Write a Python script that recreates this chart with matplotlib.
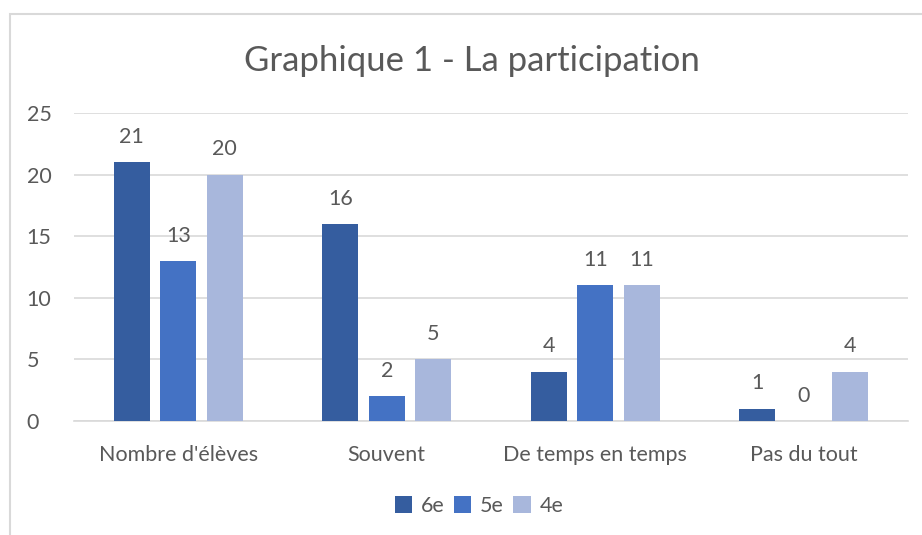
import matplotlib
matplotlib.use("Agg")
import matplotlib.pyplot as plt
from matplotlib.patches import Rectangle
import numpy as np

categories = ["Nombre d'élèves", "Souvent", "De temps en temps", "Pas du tout"]
series_names = ["6e", "5e", "4e"]
v6e = [21, 16, 4, 1]
v5e = [13, 2, 11, 0]
v4e = [20, 5, 11, 4]
yticks = [0, 5, 10, 15, 20, 25]
colors = ["#355D9F", "#4472C4", "#A8B7DC"]
title = "Graphique 1 - La participation"

W, H = 922, 535
fig = plt.figure(figsize=(W / 100, H / 100), dpi=100)
plt.rcParams['font.family'] = ['Lato', 'DejaVu Sans']
txt = "#595959"

# chart frame
fig.patches.append(Rectangle((10 / W, -0.1), 1.2, (H - 14) / H + 0.1, transform=fig.transFigure,
                             fill=False, edgecolor="#D9D9D9", linewidth=1.5, zorder=0))

ax = fig.add_axes([74 / W, (H - 421) / H, (908 - 74) / W, (421 - 113) / H])
x = np.arange(len(categories))
bw = 0.175
step = 0.223
for i, (vals, c, name) in enumerate(zip([v6e, v5e, v4e], colors, series_names)):
    pos = x + (i - 1) * step
    ax.bar(pos, vals, width=bw, color=c, label=name, zorder=3)
    for p, v in zip(pos, vals):
        ax.annotate(str(v), (p, v), xytext=(0, 11), textcoords="offset points",
                    ha="center", va="bottom", fontsize=15.5, color=txt)

ax.set_xlim(-0.5, len(categories) - 0.5)
ax.set_ylim(0, 25)
ax.set_yticks(yticks)
ax.set_xticks(x)
ax.set_xticklabels(categories)
ax.grid(axis="y", color="#D9D9D9", linewidth=1.2, zorder=0)
for s in ["top", "right", "left"]:
    ax.spines[s].set_visible(False)
ax.spines["bottom"].set_color("#D9D9D9")
ax.spines["bottom"].set_linewidth(1.2)
ax.tick_params(axis="both", length=0, labelsize=15.5, colors=txt)
ax.tick_params(axis="x", pad=17)
ax.tick_params(axis="y", pad=34)
for lbl in ax.get_yticklabels():
    lbl.set_horizontalalignment("left")

fig.text(472 / W, 1 - 61 / H, title, ha="center", va="center", fontsize=25, color=txt)

fig.legend(loc="center", bbox_to_anchor=(479 / W, 1 - 506 / H), ncol=3, frameon=False,
           fontsize=15.5, handlelength=0.8, handleheight=0.8, columnspacing=0.45,
           handletextpad=0.4, labelcolor=txt)

fig.savefig("out.png", dpi=100)
